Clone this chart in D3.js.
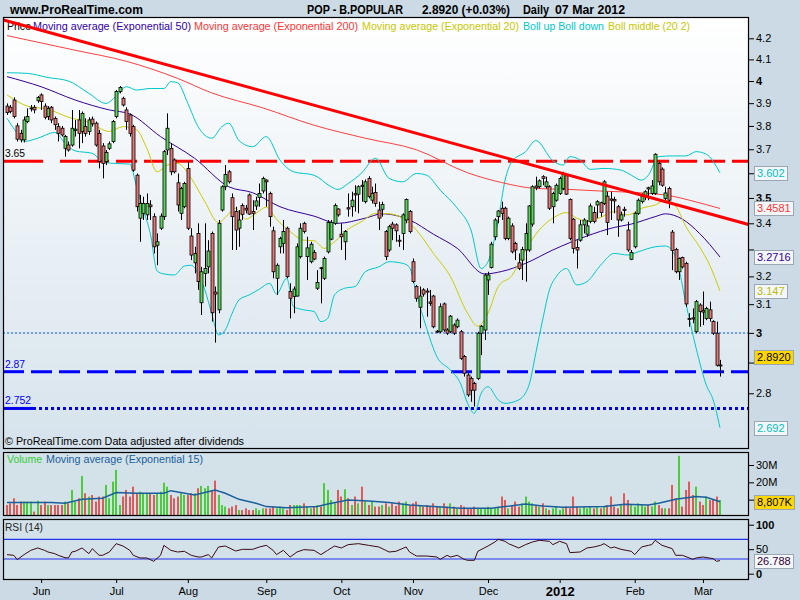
<!DOCTYPE html>
<html><head><meta charset="utf-8">
<script src="https://cdn.jsdelivr.net/npm/d3@7"></script>
<style>
body{margin:0;background:#cbdae4;}
svg{display:block;font-family:"Liberation Sans",Arial,sans-serif;}
</style></head><body>
<svg id="c" width="800" height="600"></svg>
<script>
// ---------- DATA ----------
const openP = [3.887,3.882,3.914,3.800,3.768,3.740,3.819,3.876,3.882,3.911,
3.937,3.887,3.841,3.882,3.833,3.797,3.790,3.704,3.718,3.718,
3.780,3.826,3.776,3.797,3.776,3.830,3.812,3.768,3.714,3.648,
3.704,3.733,3.841,3.952,3.922,3.870,3.848,3.797,3.592,3.420,
3.439,3.433,3.472,3.426,3.316,3.381,3.426,3.697,3.704,3.655,
3.561,3.439,3.465,3.620,3.351,3.250,3.361,3.105,3.211,3.235,
3.361,3.143,3.080,3.452,3.545,3.606,3.501,3.446,3.381,3.470,
3.459,3.512,3.446,3.468,3.502,3.528,3.572,3.518,3.371,3.193,
3.310,3.323,3.381,3.145,3.127,3.129,3.273,3.400,3.273,3.254,
3.288,3.157,3.232,3.193,3.291,3.339,3.400,3.456,3.358,3.329,
3.461,3.465,3.517,3.515,3.551,3.485,3.579,3.491,3.522,3.452,
3.455,3.368,3.298,3.397,3.394,3.335,3.361,3.413,3.446,3.254,
3.163,3.089,3.151,3.147,3.108,3.129,3.006,3.004,3.101,3.010,
3.004,3.027,3.021,3.004,2.920,2.859,2.848,2.832,2.848,2.999,
3.010,3.187,3.233,3.348,3.426,3.459,3.459,3.342,3.390,3.323,
3.250,3.260,3.298,3.298,3.397,3.548,3.545,3.586,3.545,3.545,
3.465,3.491,3.518,3.538,3.590,3.494,3.416,3.307,3.335,3.394,
3.358,3.407,3.442,3.472,3.481,3.478,3.507,3.496,3.494,3.465,
3.413,3.455,3.374,3.263,3.310,3.439,3.485,3.505,3.541,3.518,
3.518,3.641,3.617,3.498,3.538,3.366,3.300,3.217,3.270,3.248,
3.050,3.052,3.004,3.097,3.077,3.050,3.080,3.039,2.999,2.890];
const highP = [3.899,3.892,3.926,3.812,3.783,3.841,3.877,3.892,3.892,3.932,
3.944,3.899,3.887,3.887,3.841,3.812,3.800,3.761,3.733,3.870,
3.826,3.870,3.863,3.833,3.838,3.841,3.819,3.783,3.726,3.697,
3.733,3.826,3.959,3.977,3.929,3.882,3.855,3.805,3.599,3.512,
3.505,3.518,3.491,3.439,3.361,3.439,3.697,3.855,3.726,3.662,
3.599,3.545,3.565,3.648,3.381,3.310,3.400,3.235,3.400,3.335,
3.368,3.163,3.413,3.551,3.634,3.613,3.518,3.465,3.452,3.478,
3.472,3.518,3.491,3.505,3.558,3.586,3.575,3.525,3.387,3.248,
3.348,3.413,3.387,3.175,3.163,3.323,3.400,3.406,3.348,3.329,
3.298,3.223,3.235,3.273,3.413,3.413,3.478,3.459,3.400,3.374,
3.518,3.525,3.551,3.551,3.572,3.575,3.588,3.545,3.558,3.485,
3.485,3.374,3.394,3.406,3.400,3.355,3.439,3.498,3.452,3.266,
3.169,3.163,3.157,3.157,3.151,3.133,3.010,3.103,3.106,3.016,
3.062,3.033,3.050,3.010,2.925,2.865,2.854,2.837,3.004,3.027,
3.211,3.217,3.329,3.420,3.452,3.485,3.465,3.426,3.400,3.329,
3.285,3.310,3.400,3.472,3.551,3.586,3.575,3.592,3.586,3.551,
3.525,3.558,3.586,3.606,3.596,3.498,3.420,3.335,3.413,3.420,
3.413,3.478,3.465,3.491,3.485,3.572,3.525,3.525,3.505,3.472,
3.446,3.465,3.406,3.298,3.446,3.498,3.518,3.531,3.545,3.572,
3.683,3.648,3.624,3.545,3.545,3.374,3.306,3.270,3.273,3.254,
3.068,3.085,3.115,3.103,3.145,3.091,3.109,3.044,3.039,2.909];
const lowP = [3.848,3.855,3.833,3.733,3.729,3.729,3.812,3.863,3.855,3.902,
3.870,3.829,3.826,3.812,3.783,3.733,3.754,3.669,3.690,3.711,
3.754,3.704,3.726,3.754,3.761,3.797,3.711,3.620,3.579,3.634,
3.697,3.726,3.833,3.944,3.885,3.783,3.754,3.606,3.446,3.329,
3.413,3.413,3.413,3.285,3.241,3.374,3.413,3.676,3.592,3.599,
3.446,3.413,3.459,3.374,3.260,3.211,3.151,3.062,3.163,3.211,
3.039,2.967,3.068,3.446,3.531,3.558,3.298,3.298,3.310,3.413,
3.439,3.433,3.374,3.452,3.465,3.518,3.465,3.387,3.193,3.133,
3.285,3.285,3.193,3.050,3.068,3.127,3.266,3.361,3.187,3.248,
3.260,3.151,3.103,3.187,3.285,3.335,3.394,3.426,3.298,3.260,
3.426,3.426,3.446,3.439,3.485,3.478,3.498,3.478,3.465,3.374,
3.426,3.260,3.291,3.335,3.329,3.310,3.298,3.400,3.361,3.175,
3.109,3.016,3.127,3.056,3.094,3.016,2.999,2.999,3.004,2.993,
2.999,2.993,3.016,2.909,2.854,2.789,2.773,2.758,2.843,2.925,
2.976,3.133,3.229,3.335,3.400,3.413,3.335,3.335,3.285,3.260,
3.223,3.187,3.181,3.291,3.387,3.531,3.538,3.551,3.538,3.452,
3.400,3.485,3.512,3.531,3.512,3.335,3.285,3.229,3.329,3.361,
3.348,3.400,3.400,3.420,3.426,3.472,3.355,3.413,3.439,3.348,
3.407,3.426,3.291,3.260,3.304,3.433,3.478,3.491,3.491,3.512,
3.512,3.551,3.545,3.491,3.459,3.223,3.211,3.187,3.229,3.091,
3.021,3.033,2.999,3.021,3.027,3.044,3.039,2.993,2.887,2.854];
const closeP = [3.858,3.863,3.841,3.743,3.740,3.826,3.841,3.879,3.870,3.926,
3.907,3.838,3.877,3.826,3.805,3.768,3.761,3.754,3.697,3.790,
3.786,3.768,3.855,3.768,3.826,3.809,3.718,3.648,3.641,3.686,
3.723,3.819,3.952,3.971,3.892,3.819,3.768,3.613,3.465,3.478,
3.478,3.478,3.465,3.310,3.329,3.428,3.690,3.790,3.606,3.606,
3.472,3.538,3.558,3.381,3.279,3.285,3.181,3.217,3.229,3.294,
3.070,3.136,3.400,3.545,3.595,3.565,3.426,3.374,3.413,3.435,
3.452,3.436,3.439,3.488,3.518,3.579,3.565,3.426,3.217,3.241,
3.342,3.368,3.199,3.121,3.154,3.310,3.381,3.368,3.306,3.320,
3.264,3.178,3.229,3.266,3.403,3.404,3.470,3.433,3.348,3.368,
3.456,3.491,3.512,3.545,3.546,3.565,3.505,3.518,3.478,3.420,
3.474,3.273,3.387,3.381,3.371,3.331,3.433,3.494,3.368,3.181,
3.121,3.129,3.136,3.143,3.103,3.021,3.003,3.091,3.010,2.999,
3.058,2.999,3.044,2.914,2.865,2.795,2.810,2.810,2.999,3.023,
3.205,3.205,3.320,3.413,3.448,3.439,3.342,3.420,3.291,3.298,
3.229,3.300,3.361,3.468,3.545,3.541,3.569,3.579,3.565,3.459,
3.518,3.551,3.579,3.596,3.515,3.342,3.304,3.298,3.394,3.413,
3.390,3.468,3.407,3.485,3.442,3.565,3.403,3.491,3.488,3.413,
3.433,3.450,3.298,3.289,3.439,3.491,3.507,3.525,3.536,3.548,
3.679,3.565,3.551,3.520,3.491,3.296,3.217,3.266,3.235,3.101,
3.047,3.048,3.109,3.074,3.072,3.085,3.050,2.999,2.891,2.892];
// volume in millions
const volumeM = [6.9,7.9,10.8,6.9,8.9,8.9,8.9,8.9,3.1,9.4,
6.9,8.9,6.9,6.9,6.9,6.9,6.9,8.9,7.9,15.6,
8.9,10.8,23.7,13.7,11.8,12.7,8.9,11.8,11.8,18.5,
10.8,20.4,27.2,6.9,11.8,15.6,11.8,17.5,13.7,14.6,
13.7,13.7,13.7,12.7,13.7,14.6,19.8,17.5,12.7,10.8,
11.8,13.7,12.7,12.7,13.7,13.7,16.6,17.9,16.6,17.9,
15.6,21.0,12.7,6.9,6.0,5.0,6.0,6.9,4.0,4.0,
5.0,4.0,4.0,5.0,4.0,5.0,5.0,5.0,6.0,5.0,
6.0,5.0,4.0,6.9,6.9,6.9,6.9,7.9,6.0,5.0,
6.0,6.9,6.0,19.5,15.6,9.8,7.9,15.6,11.8,16.0,
10.8,6.9,11.8,7.9,17.5,8.9,6.9,8.9,6.0,6.0,
6.9,7.9,6.0,7.9,6.4,8.9,7.9,8.9,6.9,7.9,
8.9,6.9,6.0,6.9,6.0,7.9,6.0,6.0,7.9,6.0,
7.9,6.0,5.0,6.9,6.0,5.0,5.0,6.0,5.0,5.0,
5.0,6.0,5.0,5.0,6.0,11.8,9.8,5.0,6.9,8.9,
6.0,7.9,11.8,8.9,7.9,6.9,6.0,7.9,5.0,4.0,
5.0,6.0,4.0,5.0,6.0,5.0,11.8,6.0,5.0,6.0,
5.0,6.0,5.0,6.0,5.0,6.0,6.9,11.8,6.0,5.0,
6.9,13.7,9.8,6.9,6.0,7.9,6.9,6.0,6.9,6.0,
8.9,6.9,5.0,5.0,5.0,18.5,10.8,35.3,6.0,15.6,
20.4,12.7,17.5,8.9,6.9,11.8,9.8,9.8,11.8,9.8];

// indicator lines (bar index, value)
const ema200Idx = [0,20,35,50,60,75,90,105,120,135,145,155,165,175,185,195,200,209];
const ema200Val = [4.213,4.143,4.091,4.012,3.946,3.879,3.803,3.747,3.698,3.602,3.562,3.538,3.534,3.527,3.521,3.507,3.491,3.4581];
const ema50Idx = [0,10,20,30,36,45,55,65,72,80,90,97,105,110,118,125,132,140,145,152,160,170,178,183,190,193,198,203,209];
const ema50Val = [4.020,3.974,3.914,3.870,3.852,3.754,3.662,3.545,3.521,3.465,3.428,3.400,3.420,3.437,3.413,3.358,3.304,3.209,3.218,3.248,3.298,3.351,3.384,3.397,3.426,3.437,3.416,3.361,3.2716];
const ema20Idx = [0,6,12,18,24,30,34,38,41,44,47,50,54,58,62,64,67,70,73,76,79,83,87,90,93,96,100,104,108,112,116,120,125,130,135,138,141,144,148,152,156,160,164,167,170,174,178,182,186,190,193,196,199,203,206,209];
const ema20Val = [3.937,3.887,3.873,3.838,3.815,3.776,3.797,3.783,3.704,3.606,3.634,3.641,3.579,3.485,3.403,3.423,3.459,3.416,3.439,3.463,3.416,3.368,3.335,3.333,3.304,3.329,3.377,3.407,3.439,3.437,3.420,3.374,3.285,3.199,3.068,3.023,3.068,3.163,3.203,3.298,3.374,3.420,3.442,3.420,3.407,3.423,3.446,3.433,3.459,3.472,3.491,3.468,3.387,3.310,3.241,3.147];
const bollUpIdx = [0,6,12,18,24,29,32,35,38,42,46,48,50,53,56,60,63,65,68,72,76,80,84,90,95,97,100,104,108,112,116,120,123,127,132,136,139,141,144,146,148,152,155,160,163,165,168,171,175,180,183,186,188,191,195,199,202,205,209];
const bollUpVal = [4.038,4.035,4.016,4.000,3.944,3.899,3.932,3.974,3.959,3.966,3.966,3.997,3.992,3.899,3.797,3.747,3.797,3.812,3.737,3.711,3.754,3.655,3.606,3.592,3.545,3.534,3.558,3.602,3.662,3.579,3.565,3.599,3.592,3.531,3.459,3.374,3.229,3.254,3.413,3.572,3.648,3.690,3.737,3.652,3.634,3.669,3.655,3.616,3.620,3.613,3.592,3.572,3.592,3.669,3.672,3.672,3.690,3.679,3.602];
const bollDnIdx = [0,3,5,9,14,17,20,25,28,31,36,38,40,42,44,46,49,52,54,56,58,60,62,64,66,68,71,74,77,79,82,84,87,90,92,94,96,99,102,105,109,112,116,118,120,123,126,130,133,135,137,139,141,144,146,150,153,155,157,159,161,164,167,170,174,178,182,185,190,193,196,199,202,205,207,209];
const bollDnVal = [3.833,3.768,3.733,3.747,3.772,3.726,3.693,3.683,3.648,3.641,3.638,3.545,3.450,3.361,3.220,3.209,3.205,3.238,3.241,3.211,3.151,3.068,2.993,3.010,3.068,3.115,3.133,3.154,3.175,3.136,3.193,3.091,3.080,3.074,3.039,3.050,3.133,3.157,3.163,3.217,3.235,3.254,3.248,3.233,3.139,3.016,2.920,2.875,2.830,2.768,2.737,2.800,2.821,2.779,2.768,2.779,2.826,2.931,3.044,3.151,3.199,3.229,3.169,3.181,3.241,3.285,3.279,3.291,3.310,3.313,3.273,3.103,2.948,2.826,2.779,2.692];
const volEmaIdx = [0,13,17,22,28,32,38,46,48,55,61,64,68,73,76,82,91,94,100,106,112,118,125,133,142,146,152,157,163,175,181,188,191,196,202,205,209];
const volEmaVal = [8.3,8.3,7.9,10.2,10.8,14.1,13.7,13.7,15.2,12.7,15.6,13.7,10.2,7.9,6.0,5.4,6.0,7.5,9.8,9.2,8.3,6.9,6.0,5.0,5.0,6.0,7.5,6.4,5.6,6.0,7.3,6.9,7.9,10.2,11.8,11.4,8.807];
const rsiIdx = [0,2,3,5,7,9,11,12,14,15,17,18,19,20,22,24,25,27,28,30,32,34,36,37,39,41,43,45,46,48,50,52,54,56,57,59,60,62,64,67,69,72,74,76,78,79,81,83,85,87,90,92,94,96,98,100,103,106,109,111,112,114,117,118,120,123,126,127,129,130,132,134,135,137,138,141,143,144,146,147,150,152,154,156,159,160,162,164,165,168,170,172,174,175,177,178,180,183,184,186,188,189,190,192,195,196,198,201,202,204,207,208,209];
const rsiVal = [38.9,37.5,28.7,38.9,47.7,52.5,47.7,44.3,40.9,37.5,32.7,32.1,44.3,45.7,52.5,40.9,51.1,37.5,37.5,44.3,61.3,56.5,47.7,37.5,32.1,32.1,25.3,37.5,57.9,47.7,44.3,45.7,37.5,34.1,34.1,38.9,32.1,54.5,56.5,46.3,49.7,49.7,54.5,57.9,47.7,38.9,47.7,34.1,44.3,49.1,47.7,38.9,47.7,56.5,52.5,59.3,61.3,57.9,54.5,47.7,44.3,45.7,54.5,44.3,36.1,36.1,34.1,29.3,37.5,34.1,37.5,29.3,27.3,27.3,45.7,56.5,64.7,70.1,66.1,61.3,52.5,59.3,64.7,68.1,66.1,59.3,66.1,61.3,43.0,44.3,52.5,54.5,57.9,61.3,52.5,54.5,49.7,45.7,38.9,54.5,57.9,59.3,68.1,57.9,51.1,37.5,37.5,29.3,32.1,34.1,30.7,25.3,26.788];

// trend line anchors (bar index, price) and horizontal levels
const trendIdx = [-1, 218];
const trendVal = [4.289, 3.393];
const levelRed = 3.65, levelBlue = 2.87, levelDot = 2.752, levelGrid = 3.0;

// axes
const priceTicks = [4.2,4.1,4,3.9,3.8,3.7,3.6,3.5,3.4,3.3,3.2,3.1,3,2.9,2.8];
const boldTicks = [4,3.5,3];
const volTicks = [10,20,30];
const rsiTicks = [0,50,100];
const monthIdx = [10,32,53,76,98,119,141,162,184,204];
const monthLabels = ["Jun","Jul","Aug","Sep","Oct","Nov","Dec","2012","Feb","Mar"];

// ---------- DRAW ----------
const svg = d3.select("#c");
const defs = svg.append("defs");
const grad = defs.append("linearGradient").attr("id","bg").attr("x1",0).attr("y1",0).attr("x2",0).attr("y2",1);
grad.append("stop").attr("offset","0%").attr("stop-color","#ffffff");
grad.append("stop").attr("offset","100%").attr("stop-color","#d6e3ec");

const L = 3, R = 749;
const PM = {t:17,b:449}, PV = {t:452,b:516}, PR = {t:519,b:580};
[["cm",PM],["cv",PV],["cr",PR]].forEach(([id,p]) => defs.append("clipPath").attr("id",id)
  .append("rect").attr("x",L).attr("y",p.t).attr("width",R-L).attr("height",p.b-p.t));

svg.append("rect").attr("width",800).attr("height",600).attr("fill","#cbdae4");
svg.append("rect").attr("x",L).attr("y",PM.t).attr("width",R-L).attr("height",PM.b-PM.t).attr("fill","url(#bg)");
svg.append("rect").attr("x",L).attr("y",PV.t).attr("width",R-L).attr("height",PV.b-PV.t).attr("fill","#d3e1e9");
svg.append("rect").attr("x",L).attr("y",PR.t).attr("width",R-L).attr("height",PR.b-PR.t).attr("fill","#d3e1e9");

const N = closeP.length;
const x = d3.scaleLinear().domain([0, N-1]).range([7, 720]);
const yP = d3.scaleLog().domain([2.8, 4.2]).range([393.3, 38.3]);
const yV = d3.scaleLinear().domain([0, 30]).range([517, 465]);
const yR = d3.scaleLinear().domain([0, 100]).range([573.7, 524.7]);

// text helper with fitted width
function txt(g, px, py, s, color, size, len, weight) {
  const t = g.append("text").attr("x",px).attr("y",py).attr("font-size",size).attr("fill",color).text(s);
  if (weight) t.attr("font-weight",weight);
  if (len) t.attr("textLength",len).attr("lengthAdjust","spacingAndGlyphs");
  return t;
}

// header
txt(svg, 10, 14, "www.ProRealTime.com", "#000", 13, 133, "bold");
txt(svg, 307, 14, "POP - B.POPULAR", "#000", 12.5, 96, "bold");
txt(svg, 422, 14, "2.8920 (+0.03%)", "#000", 12.5, 88, "bold");
txt(svg, 523, 14, "Daily", "#000", 12.5, 26, "bold");
txt(svg, 555, 14, "07 Mar 2012", "#000", 12.5, 70, "bold");

// main panel content
const gm = svg.append("g").attr("clip-path","url(#cm)");

// legend
const legend = [["Price","#000",7,24],["Moving average (Exponential 50)","#3300aa",33,158],["Moving average (Exponential 200)","#ff3333",194,164],
  ["Moving average (Exponential 20)","#c8c800",362,157],["Boll up Boll down","#00c8c8",523,81],["Boll middle (20 2)","#c8c800",608,82]];
legend.forEach(([t,c,px,w]) => txt(gm, px, 30, t, c, 11, w));

// horizontal levels
function hline(v, color, w, dash, startX) {
  gm.append("line").attr("x1",startX).attr("x2",R).attr("y1",yP(v)).attr("y2",yP(v))
    .attr("stroke",color).attr("stroke-width",w).attr("stroke-dasharray",dash);
}
hline(levelGrid, "#6b9bff", 2, "2,2", L);
gm.append("line").attr("x1",L).attr("x2",43).attr("y1",yP(levelRed)).attr("y2",yP(levelRed)).attr("stroke","#ff0000").attr("stroke-width",3);
hline(levelRed, "#ff0000", 3, "21,7", 60);
gm.append("line").attr("x1",L).attr("x2",24).attr("y1",yP(levelBlue)).attr("y2",yP(levelBlue)).attr("stroke","#0000ff").attr("stroke-width",3);
hline(levelBlue, "#0000ff", 3, "21,7", 31);
gm.append("line").attr("x1",L).attr("x2",33).attr("y1",yP(levelDot)).attr("y2",yP(levelDot)).attr("stroke","#0000ee").attr("stroke-width",3);
hline(levelDot, "#0000ee", 3, "3,3", 33);
txt(gm, 5, yP(levelRed)-4, String(levelRed), "#000", 11, 20);
txt(gm, 5, yP(levelBlue)-4, String(levelBlue), "#0000ff", 11, 20);
txt(gm, 5, yP(levelDot)-4, String(levelDot), "#0000ff", 11, 26);

// indicator lines
function series(idx, vals, color, w, scale, g, curve) {
  const pts = idx.map((d,i)=>[d, vals[i]]);
  g.append("path").datum(pts).attr("fill","none").attr("stroke",color).attr("stroke-width",w)
    .attr("d", d3.line().x(d=>x(d[0])).y(d=>scale(d[1])).curve(curve || d3.curveMonotoneX));
}
series(bollUpIdx, bollUpVal, "#00c8c8", 1, yP, gm);
series(bollDnIdx, bollDnVal, "#00c8c8", 1, yP, gm);
series(ema200Idx, ema200Val, "#ff4040", 1, yP, gm);
series(ema50Idx, ema50Val, "#330099", 1, yP, gm);
series(ema20Idx, ema20Val, "#cccc00", 1, yP, gm);

// candles
const candles = d3.range(N).map(i => ({i, o:openP[i], h:highP[i], l:lowP[i], c:closeP[i]}));
const cg = gm.append("g");
cg.selectAll("line.w").data(candles).join("line")
  .attr("x1", d=>Math.round(x(d.i))+0.5).attr("x2", d=>Math.round(x(d.i))+0.5)
  .attr("y1", d=>yP(d.h)).attr("y2", d=>yP(d.l)).attr("stroke","#000").attr("stroke-width",1);
cg.selectAll("rect").data(candles).join("rect")
  .attr("x", d=>Math.round(x(d.i))-1).attr("width",3)
  .attr("y", d=>yP(Math.max(d.o,d.c))).attr("height", d=>Math.max(1, yP(Math.min(d.o,d.c))-yP(Math.max(d.o,d.c))))
  .attr("fill", d=> d.c>=d.o ? "#5cd65c" : "#e87676").attr("stroke","#000").attr("stroke-width",0.8);

// trend line (on top)
series(trendIdx, trendVal, "#ff0000", 3, yP, gm, d3.curveLinear);

txt(gm, 5, 445, "\u00a9 ProRealTime.com  Data adjusted after dividends", "#000", 11, 239);

// volume panel
const gv = svg.append("g").attr("clip-path","url(#cv)");
gv.selectAll("rect").data(candles).join("rect")
  .attr("x", d=>Math.round(x(d.i))-1).attr("width",2)
  .attr("y", d=>yV(volumeM[d.i])).attr("height", d=>yV(0)-yV(volumeM[d.i]))
  .attr("fill", d=> d.c>=d.o ? "#4ccc3c" : "#e05a5a");
series(volEmaIdx, volEmaVal, "#1a5f9c", 1.5, yV, gv, d3.curveLinear);
txt(gv, 7, 463, "Volume", "#33cc33", 11, 35);
txt(gv, 46, 463, "Moving average (Exponential 15)", "#1a5f9c", 11, 157);

// RSI panel
const gr = svg.append("g").attr("clip-path","url(#cr)");
[70,30].forEach(v => gr.append("line").attr("x1",L).attr("x2",R).attr("y1",yR(v)).attr("y2",yR(v)).attr("stroke","#2233ee").attr("stroke-width",1.2));
series(rsiIdx, rsiVal, "#3a0a14", 1, yR, gr, d3.curveLinear);
txt(gr, 5, 531, "RSI (14)", "#222", 11, 38);

// panel borders
[PM,PV,PR].forEach(p => svg.append("rect").attr("x",L+0.5).attr("y",p.t+0.5).attr("width",R-L-1).attr("height",p.b-p.t-1)
  .attr("fill","none").attr("stroke","#000").attr("stroke-width",1.2));

// value boxes (last values) — computed first so covered tick labels can be hidden
const last = a => a[a.length-1];
const boxes = [
  [yP(last(bollUpVal)), String(last(bollUpVal)), "#00c0c0", "#f3f7fa"],
  [yP(last(ema200Val)), String(last(ema200Val)), "#ff3333", "#f3f7fa"],
  [yP(last(ema50Val)), String(last(ema50Val)), "#330099", "#f3f7fa"],
  [yP(last(ema20Val)), String(last(ema20Val)), "#bcbc00", "#f3f7fa"],
  [yP(last(closeP))-8, last(closeP).toFixed(4), "#000", "#ffd700"],
  [yP(last(bollDnVal)), String(last(bollDnVal)), "#00c0c0", "#f3f7fa"],
  [yV(last(volEmaVal)), d3.format(",")(Math.round(last(volEmaVal)*1000))+"K", "#000", "#ffd700"],
  [yR(last(rsiVal)), String(last(rsiVal)), "#330033", "#f3f7fa"]
];
const covered = yy => boxes.some(b => Math.abs(b[0]-yy) < 8.5);

// right axes
function rightAxis(scale, ticks, fmt, bolds) {
  const g = svg.append("g").attr("transform",`translate(${R},0)`)
    .call(d3.axisRight(scale).tickValues(ticks).tickFormat(fmt).tickSize(5).tickPadding(2));
  g.select(".domain").remove();
  g.selectAll("text").attr("font-size",11).attr("font-family","Liberation Sans, Arial, sans-serif").attr("fill","#000")
    .attr("font-weight", d => bolds.includes(d) ? "bold" : "normal");
  g.selectAll(".tick").filter(d => covered(scale(d))).select("text").remove();
  g.selectAll("line").attr("stroke","#000");
}
rightAxis(yP, priceTicks, d=>String(d), boldTicks);
rightAxis(yV, volTicks, d=>d+"M", []);
rightAxis(yR, rsiTicks, d=>String(d), [0,100]);

// time axis
const gx = svg.append("g").attr("transform",`translate(0,${PR.b})`)
  .call(d3.axisBottom(x).tickValues(monthIdx).tickFormat((d,i)=>monthLabels[i]).tickSize(3).tickPadding(4));
gx.select(".domain").remove();
gx.selectAll("text").attr("font-family","Liberation Sans, Arial, sans-serif").attr("fill","#000")
  .attr("font-weight",(d,i)=> monthLabels[i]==="2012" ? "bold" : "normal")
  .attr("font-size",(d,i)=> monthLabels[i]==="2012" ? 13 : 11);

// draw value boxes
boxes.forEach(([yc, label, color, fill]) => {
  const g = svg.append("g");
  const t = g.append("text").attr("x",757).attr("y",yc+4).attr("font-size",11).attr("fill",color).text(label);
  const w = t.node().getComputedTextLength();
  g.insert("rect","text").attr("x",754.5).attr("y",Math.round(yc-7)+0.5).attr("width",Math.round(w)+5).attr("height",14)
    .attr("fill",fill).attr("stroke","#9aa7b2");
});
</script>
</body></html>
